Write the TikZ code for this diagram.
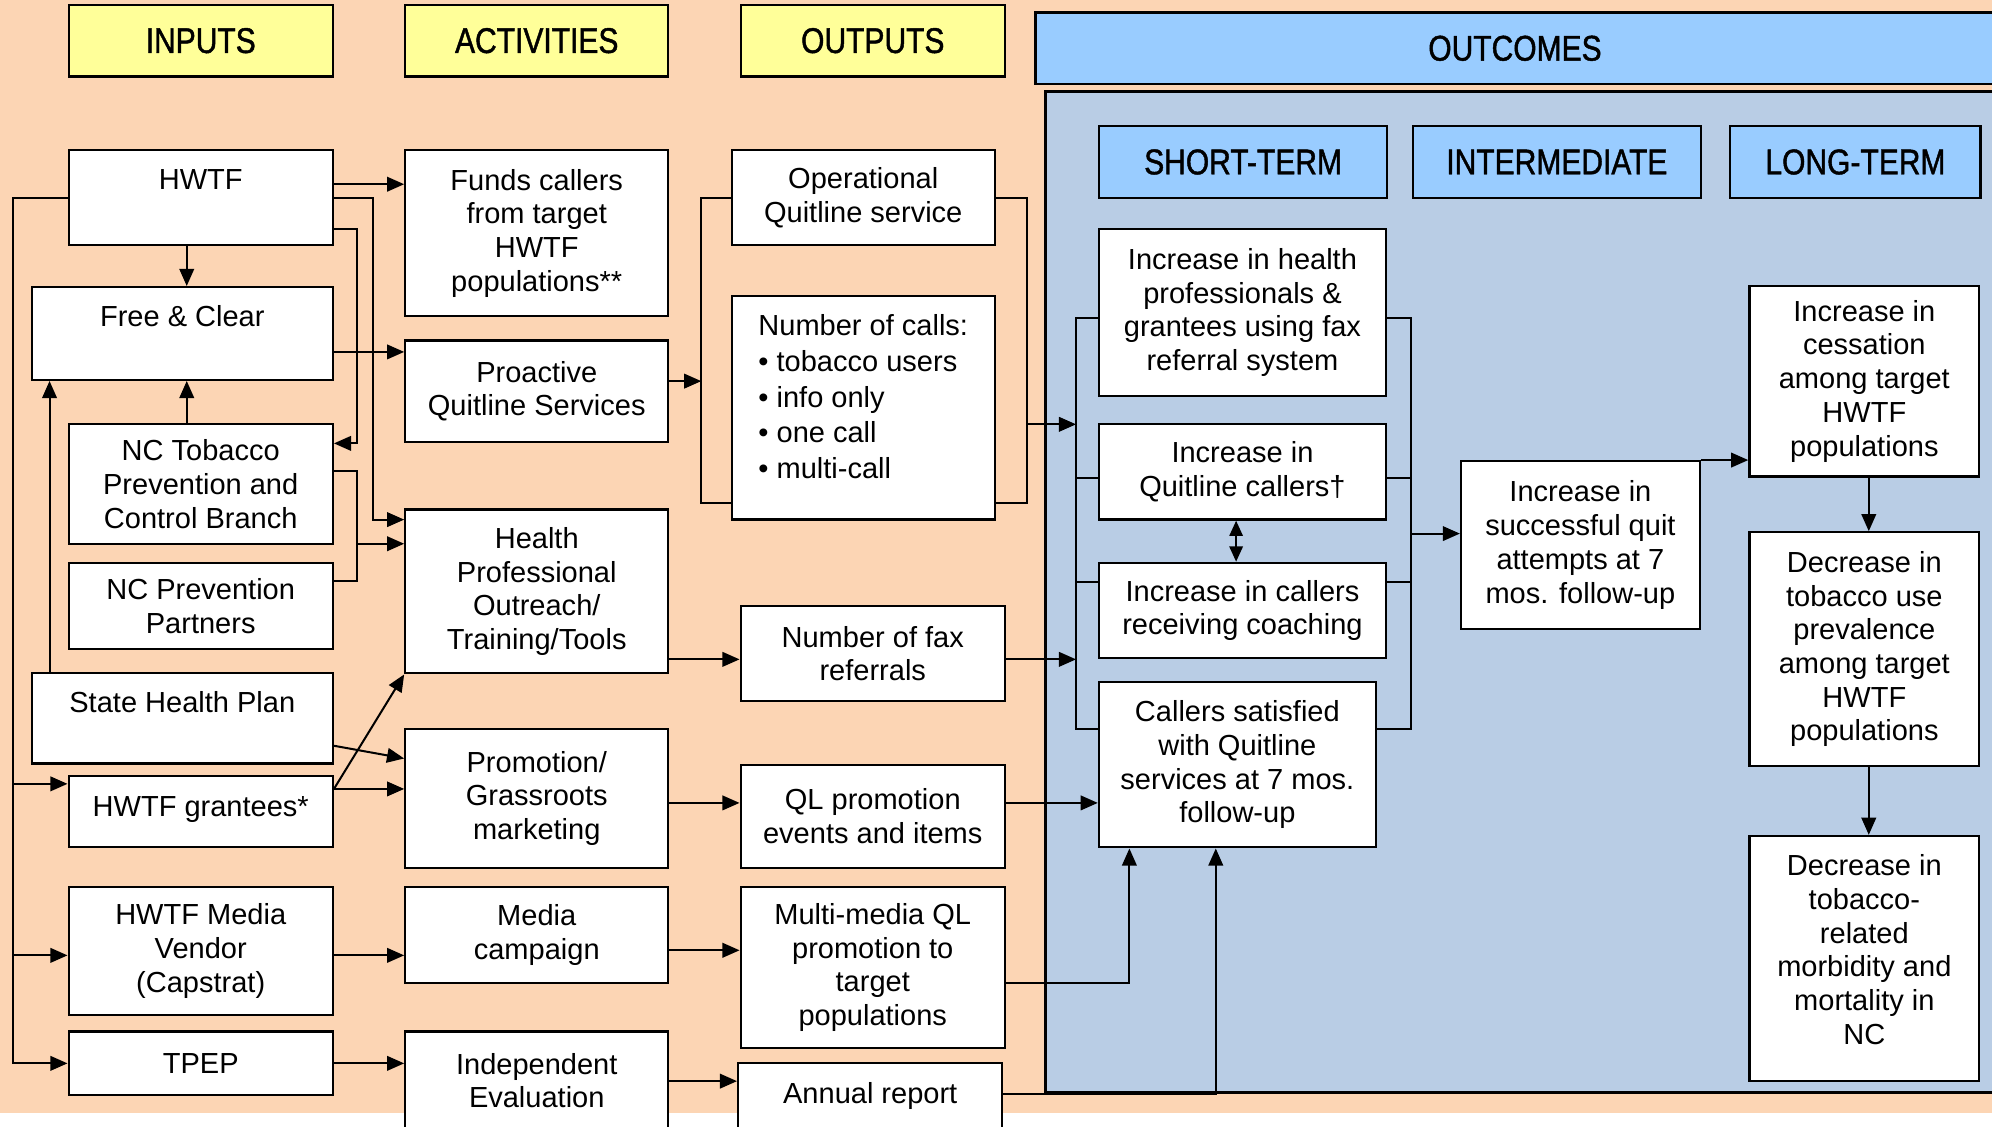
\documentclass[tikz,border=0pt]{standalone}
\usepackage{fontspec}
\setmainfont{Liberation Sans}
\newfontfamily\narrowfont[FakeStretch=0.84, FakeBold=1.2]{Liberation Sans}
\usetikzlibrary{calc}
\usetikzlibrary{arrows.meta}
\newcommand{\bodyfont}{\fontsize{13}{15.1}\selectfont}
\newcommand{\hdrfont}{\narrowfont\fontsize{16}{19}\selectfont}
\definecolor{peach}{HTML}{FCD5B4}
\definecolor{hdryellow}{HTML}{FFFF99}
\definecolor{hdrblue}{HTML}{99CCFF}
\definecolor{outblue}{HTML}{B9CDE5}
\tikzset{
    box/.style={draw=black, line width=1pt, fill=white, align=center, inner sep=0pt, font=\bodyfont},
    hdr/.style={draw=black, line width=1pt, inner sep=0pt, font=\hdrfont, minimum height=1.13cm},
    link/.style={line width=0.9pt},
    arr/.style={line width=0.9pt, -{Triangle[length=0.27cm,width=0.23cm]}},
    arrboth/.style={line width=0.9pt, {Triangle[length=0.24cm,width=0.21cm]}-{Triangle[length=0.24cm,width=0.21cm]}}
}

\begin{document}
\begin{tikzpicture}[x=0.02cm, y=-0.02cm]
            \useasboundingbox (0,0) rectangle (1568,887);
            \clip (0,0) rectangle (1568,887);

            % Draw the background and the outcomes panel
            \fill[peach] (0,0) rectangle (1568,876);
            \fill[white] (0,876) rectangle (1568,887);
            \filldraw[fill=outblue, draw=black, line width=1pt] (823,72) rectangle (1600,860);

            % Draw the column headers
            \node[hdr, fill=hdryellow, minimum width=4.16cm] (inp) at (158,32) {INPUTS};
            \node[hdr, fill=hdryellow, minimum width=4.14cm] (act) at (422.5,32) {ACTIVITIES};
            \node[hdr, fill=hdryellow, minimum width=4.16cm] (outp) at (687,32) {OUTPUTS};
            \node[hdr, fill=hdrblue, minimum width=15.1cm] (outc) at (1192.5,38) {OUTCOMES};

            \node[hdr, fill=hdrblue, minimum width=4.54cm] (st) at (978.5,127.5) {SHORT-TERM};
            \node[hdr, fill=hdrblue, minimum width=4.54cm] (it) at (1225.5,127.5) {INTERMEDIATE};
            \node[hdr, fill=hdrblue, minimum width=3.94cm] (lt) at (1460.5,127.5) {LONG-TERM};

            % Draw the inputs
            \node[box, minimum width=4.16cm, minimum height=1.50cm] (hwtf) at (158,155.5) {HWTF\\[1pt] \mbox{}};
            \node[box, minimum width=4.74cm, minimum height=1.46cm] (fc) at (143.5,262.5) {Free \& Clear\\[1pt] \mbox{}};
            \node[box, minimum width=4.16cm, minimum height=1.88cm] (nctp) at (158,381) {NC Tobacco\\Prevention and\\Control Branch};
            \node[box, minimum width=4.16cm, minimum height=1.36cm] (ncpp) at (158,477) {NC Prevention\\Partners};
            \node[box, minimum width=4.74cm, minimum height=1.42cm] (shp) at (143.5,565.5) {State Health Plan\\ \mbox{}};
            \node[box, minimum width=4.16cm, minimum height=1.12cm] (grant) at (158,639) {HWTF grantees*\\[-10pt]\mbox{}};
            \node[box, minimum width=4.16cm, minimum height=2.02cm] (vend) at (158,748.5) {HWTF Media\\Vendor\\(Capstrat)};
            \node[box, minimum width=4.16cm, minimum height=1.00cm] (tpep) at (158,837) {TPEP};

            % Draw the activities
            \node[box, minimum width=4.14cm, minimum height=2.62cm] (funds) at (422.5,183.5) {Funds callers\\from target\\HWTF\\populations**};
            \node[box, minimum width=4.14cm, minimum height=1.60cm] (proact) at (422.5,308) {Proactive\\Quitline Services};
            \node[box, minimum width=4.14cm, minimum height=2.58cm] (hpo) at (422.5,465.5) {Health\\Professional\\Outreach/\\Training/Tools};
            \node[box, minimum width=4.14cm, minimum height=2.18cm] (promo) at (422.5,628.5) {Promotion/\\Grassroots\\marketing};
            \node[box, minimum width=4.14cm, minimum height=1.52cm] (media) at (422.5,736) {Media\\campaign};
            \node[box, minimum width=4.14cm, minimum height=1.54cm] (ieval) at (422.5,850.5) {Independent\\Evaluation};

            % Draw the outputs
            \node[box, minimum width=4.14cm, minimum height=1.50cm] (oper) at (679.5,155.5) {Operational\\Quitline service};
            \node[box, minimum width=4.14cm, minimum height=3.52cm, align=left,
                  font=\fontsize{13}{16}\selectfont] (ncalls) at (679.5,321)
                  {Number of calls:\\\textbullet\ tobacco users\\\textbullet\ info only\\\textbullet\ one call\\\textbullet\ multi-call\\[-6pt]\mbox{}};
            \node[box, minimum width=4.16cm, minimum height=1.50cm] (fax) at (687,514.5) {Number of fax\\referrals};
            \node[box, minimum width=4.16cm, minimum height=1.62cm] (qlp) at (687,642.5) {QL promotion\\events and items};
            \node[box, minimum width=4.16cm, minimum height=2.54cm] (mmql) at (687,761.5) {Multi-media QL\\promotion to\\target\\populations};
            \node[box, minimum width=4.16cm, minimum height=1.04cm] (annual) at (685,863) {Annual report};

            % Draw the short-term outcomes
            \node[box, minimum width=4.52cm, minimum height=2.64cm] (stfax) at (978,246) {Increase in health\\professionals \&\\grantees using fax\\referral system};
            \node[box, minimum width=4.52cm, minimum height=1.50cm] (stcall) at (978,371.5) {Increase in\\Quitline callers†};
            \node[box, minimum width=4.52cm, minimum height=1.50cm] (stcoach) at (978,480.5) {Increase in callers\\receiving coaching};
            \node[box, minimum width=4.36cm, minimum height=2.60cm] (stsat) at (974,602) {Callers satisfied\\with Quitline\\services at 7 mos.\\follow-up};

            % Draw the intermediate and long-term outcomes
            \node[box, minimum width=3.76cm, minimum height=2.64cm] (imquit) at (1244,429) {Increase in\\successful quit\\attempts at 7\\mos. follow-up};
            \node[box, minimum width=3.62cm, minimum height=3.00cm] (ltcess) at (1467.5,300) {Increase in\\cessation\\among target\\HWTF\\populations};
            \node[box, minimum width=3.62cm, minimum height=3.68cm] (ltprev) at (1467.5,511) {Decrease in\\tobacco use\\prevalence\\among target\\HWTF\\populations};
            \node[box, minimum width=3.62cm, minimum height=3.86cm] (ltmorb) at (1467.5,754.5) {Decrease in\\tobacco-\\related\\morbidity and\\mortality in\\NC\\[-7pt]\mbox{}};

            % Draw the input connectors
            \coordinate (trunk) at (10,156);
            \draw[arr] (hwtf.west |- trunk) -- (trunk) |- (tpep.west |- 0,837);
            \draw[arr] (trunk |- 0,617) -- (grant.west |- 0,617);
            \draw[arr] (trunk |- 0,752) -- (vend.west |- 0,752);

            \draw[arr] (hwtf.east |- 0,145) -- (funds.west |- 0,145);
            \draw[arr] (hwtf.east |- 0,156) -- ++(31,0) |- (hpo.west |- 0,409);
            \draw[arr] (hwtf.east |- 0,180) -- ++(18,0) |- (nctp.east |- 0,349);
            \draw[arr] (hwtf.south -| 147,0) -- (fc.north -| 147,0);
            \draw[arr] (nctp.north -| 147,0) -- (fc.south -| 147,0);
            \draw[arr] (shp.north -| 39,0) -- (fc.south -| 39,0);
            \draw[arr] (fc.east |- 0,277) -- (proact.west |- 0,277);

            \coordinate (jnc) at (281,428);
            \draw[link] (nctp.east |- 0,371) -- (jnc |- 0,371) |- (ncpp.east |- 0,457);
            \draw[arr] (jnc) -- (hpo.west |- jnc);

            \draw[arr] (shp.east |- 0,587) -- (promo.west |- 0,597);
            \draw[arr] (grant.east |- 0,621) -- (promo.west |- 0,621);
            \draw[arr] (grant.east |- 0,621) -- (hpo.south west);
            \draw[arr] (vend.east |- 0,752) -- (media.west |- 0,752);
            \draw[arr] (tpep.east |- 0,837) -- (ieval.west |- 0,837);

            % Draw the activity to output connectors
            \coordinate (outL) at (552,300);
            \coordinate (outR) at (808,334);
            \draw[link] (oper.west |- 0,156) -- (outL |- 0,156) |- (ncalls.west |- 0,396);
            \draw[link] (oper.east |- 0,156) -- (outR |- 0,156) |- (ncalls.east |- 0,396);
            \draw[arr] (proact.east |- outL) -- (outL);
            \draw[arr] (hpo.east |- 0,519) -- (fax.west |- 0,519);
            \draw[arr] (promo.east |- 0,632) -- (qlp.west |- 0,632);
            \draw[arr] (media.east |- 0,748) -- (mmql.west |- 0,748);
            \draw[arr] (ieval.east |- 0,851) -- (annual.west |- 0,851);

            % Draw the short-term brackets
            \coordinate (stL) at (847,334);
            \coordinate (stR) at (1111,420);
            \draw[arr] (outR) -- (stL);
            \draw[link] (stfax.west |- 0,250) -- (stL |- 0,250) |- (stsat.west |- 0,574);
            \draw[link] (stL |- 0,376) -- (stcall.west |- 0,376);
            \draw[link] (stL |- 0,458) -- (stcoach.west |- 0,458);
            \draw[link] (stfax.east |- 0,250) -- (stR |- 0,250) |- (stsat.east |- 0,574);
            \draw[link] (stR |- 0,376) -- (stcall.east |- 0,376);
            \draw[link] (stR |- 0,458) -- (stcoach.east |- 0,458);
            \draw[arrboth] (stcall.south -| 973,0) -- (stcoach.north -| 973,0);

            \draw[arr] (fax.east |- 0,519) -- (stL |- 0,519);
            \draw[arr] (qlp.east |- 0,632) -- (stsat.west |- 0,632);
            \draw[arr] (mmql.east |- 0,774) -| (stsat.south -| 889,0);
            \draw[arr] (annual.east |- 0,861) -| (stsat.south -| 957,0);

            % Draw the outcome chain
            \draw[arr] (stR) -- (imquit.west |- stR);
            \draw[arr] (imquit.north east) -- (ltcess.west |- imquit.north east);
            \draw[arr] (ltcess.south -| 1471,0) -- (ltprev.north -| 1471,0);
            \draw[arr] (ltprev.south -| 1471,0) -- (ltmorb.north -| 1471,0);

        \end{tikzpicture}
\end{document}
